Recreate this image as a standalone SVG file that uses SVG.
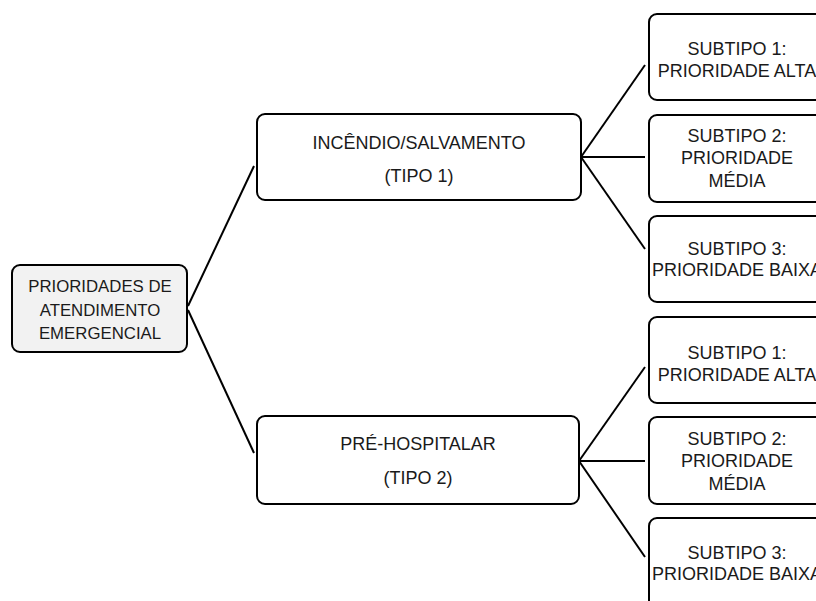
<svg xmlns="http://www.w3.org/2000/svg" width="816" height="601" viewBox="0 0 816 601">
<style>
.box{fill:#ffffff;stroke:#000;stroke-width:2}
.root{fill:#f2f2f2;stroke:#000;stroke-width:2}
.t{font-family:"Liberation Sans",Arial,sans-serif;font-size:18px;fill:#1a1a1a;text-anchor:middle}
.r{font-size:16.8px}
.c{stroke:#000;stroke-width:2;fill:none}
</style>
<rect width="816" height="601" fill="#fff"/>
<g id="connectors">
<line class="c" x1="188" y1="306" x2="254" y2="166"/>
<line class="c" x1="188" y1="310" x2="254" y2="453"/>
<line class="c" x1="581" y1="157" x2="645" y2="65"/>
<line class="c" x1="581" y1="157" x2="645" y2="157"/>
<line class="c" x1="581" y1="157" x2="645" y2="249"/>
<line class="c" x1="579" y1="461" x2="645" y2="367"/>
<line class="c" x1="579" y1="461" x2="645" y2="461"/>
<line class="c" x1="579" y1="461" x2="645" y2="557"/>
</g>
<g id="root">
<rect class="root" x="12" y="265" width="175" height="87" rx="8"/>
<text class="t r" x="100" y="292">PRIORIDADES DE</text>
<text class="t r" x="100" y="316">ATENDIMENTO</text>
<text class="t r" x="100" y="339">EMERGENCIAL</text>
</g>
<g id="tipo1">
<rect class="box" x="257" y="114" width="324" height="86" rx="8"/>
<text class="t" x="419" y="149">INCÊNDIO/SALVAMENTO</text>
<text class="t" x="419" y="182">(TIPO 1)</text>
</g>
<g id="tipo2">
<rect class="box" x="257" y="416" width="322" height="88" rx="8"/>
<text class="t" x="418" y="450">PRÉ-HOSPITALAR</text>
<text class="t" x="418" y="484">(TIPO 2)</text>
</g>
<g id="t1s1">
<rect class="box" x="649" y="14" width="180" height="86" rx="8"/>
<text class="t" x="737" y="55">SUBTIPO 1:</text>
<text class="t" x="737" y="77">PRIORIDADE ALTA</text>
</g>
<g id="t1s2">
<rect class="box" x="649" y="115" width="180" height="87" rx="8"/>
<text class="t" x="737" y="142">SUBTIPO 2:</text>
<text class="t" x="737" y="164">PRIORIDADE</text>
<text class="t" x="737" y="187">MÉDIA</text>
</g>
<g id="t1s3">
<rect class="box" x="649" y="216" width="180" height="86" rx="8"/>
<text class="t" x="737" y="255">SUBTIPO 3:</text>
<text class="t" x="737" y="276">PRIORIDADE BAIXA</text>
</g>
<g id="t2s1">
<rect class="box" x="649" y="317" width="180" height="86" rx="8"/>
<text class="t" x="737" y="359">SUBTIPO 1:</text>
<text class="t" x="737" y="381">PRIORIDADE ALTA</text>
</g>
<g id="t2s2">
<rect class="box" x="649" y="417" width="180" height="87" rx="8"/>
<text class="t" x="737" y="445">SUBTIPO 2:</text>
<text class="t" x="737" y="467">PRIORIDADE</text>
<text class="t" x="737" y="490">MÉDIA</text>
</g>
<g id="t2s3">
<rect class="box" x="649" y="518" width="180" height="100" rx="8"/>
<text class="t" x="737" y="559">SUBTIPO 3:</text>
<text class="t" x="737" y="580">PRIORIDADE BAIXA</text>
</g>
</svg>
